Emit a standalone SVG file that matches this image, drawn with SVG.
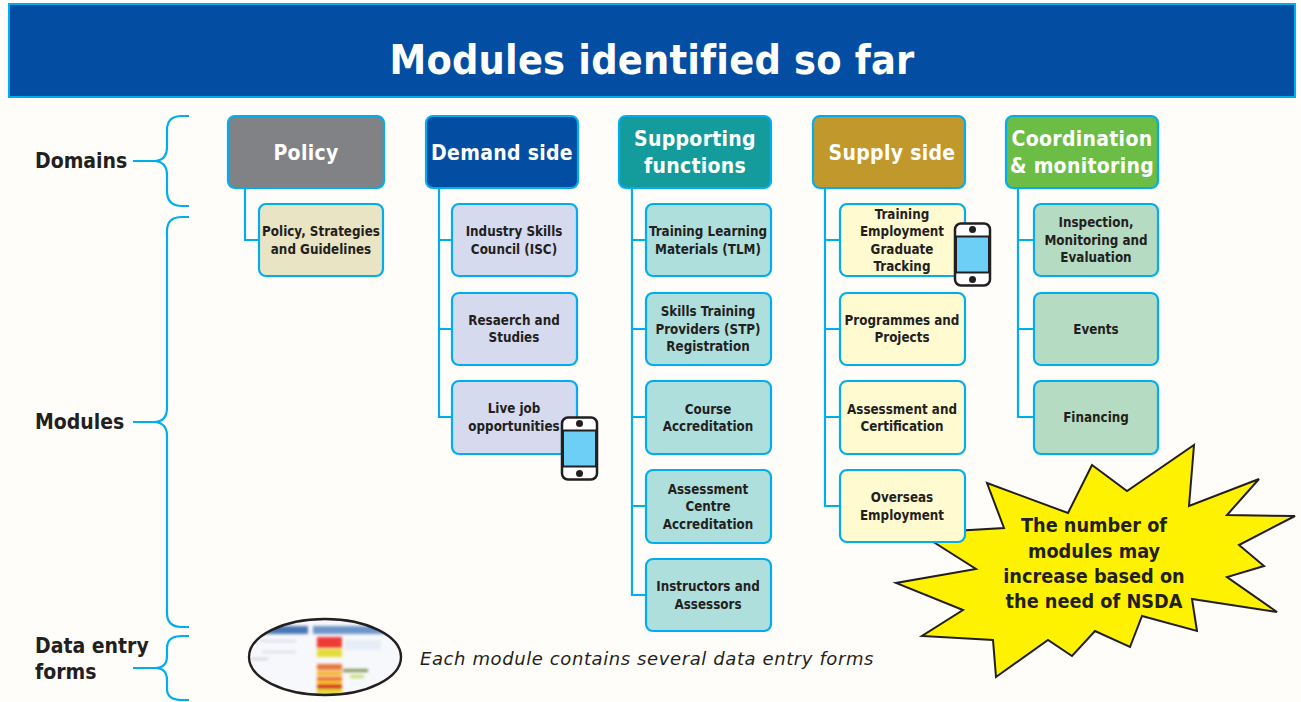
<svg xmlns="http://www.w3.org/2000/svg" width="1301" height="702" viewBox="0 0 1301 702">
<style>
text{font-family:"DejaVu Sans Condensed","DejaVu Sans","Liberation Sans",sans-serif;font-weight:700;text-anchor:middle;fill:#231f20}
.t{font-size:13.300px;transform:translateY(-.5px)}
.d{font-size:21px;fill:#fff;letter-spacing:.3px}
.l{font-size:21px;text-anchor:start}
.g{font-size:19.700px}
.b{fill:none;stroke:#00aeef;stroke-width:2.200}
.c{fill:none;stroke:#00aeef;stroke-width:2.200}
.dom{stroke:#00aeef;stroke-width:2.200}
.sub{stroke:#00aeef;stroke-width:2.200}
.p{fill:#e9e4c3}.q{fill:#d5daef}.r{fill:#afdfdd}.s{fill:#fffad0}.u{fill:#b5dcc3}
</style>
<defs>
<clipPath id="ell"><ellipse cx="325" cy="657" rx="76" ry="38"/></clipPath>
<filter id="blur" x="-5%" y="-5%" width="110%" height="110%"><feGaussianBlur stdDeviation="1.500"/></filter>
<g id="phone">
<rect x="-17.500" y="-31" width="35" height="62" rx="6" fill="#fff" stroke="#231f20" stroke-width="2.500"/>
<rect x="-16.500" y="-18" width="33" height="36" fill="#6dcff6" stroke="#231f20" stroke-width="2"/>
<circle cx="0" cy="-25" r="3.500" fill="#231f20"/>
<circle cx="0" cy="25" r="3.500" fill="#231f20"/>
</g>
</defs>
<rect width="1301" height="702" fill="#fefdf9"/>
<g id="header">
<rect x="9" y="4" width="1286" height="93" fill="#034ea2" stroke="#00aeef" stroke-width="2"/>
<text x="652" y="74" style="font-size:41px;fill:#fff;letter-spacing:.2px">Modules identified so far</text>
</g>
<g id="connectors">
<path class="c" d="M245 188V240H259"/>
<path class="c" d="M439 188V417H452M439 240H452M439 329H452"/>
<path class="c" d="M632 188V595H646M632 240H646M632 329H646M632 417H646M632 506H646"/>
<path class="c" d="M825 188V506H840M825 240H840M825 329H840M825 417H840"/>
<path class="c" d="M1018 188V417H1034M1018 240H1034M1018 329H1034"/>
</g>
<g id="brace-domains"><path class="b" d="M189 116H182Q167 116 167 130V147Q167 160 155 161H133M155 161Q167 162 167 175V191Q167 206 182 206H189"/><text class="l" x="35" y="168">Domains</text></g>
<g id="brace-modules"><path class="b" d="M189 217H182Q167 217 167 231V408Q167 421 155 422H133M155 422Q167 423 167 436V613Q167 627 182 627H189"/><text class="l" x="35" y="429">Modules</text></g>
<g id="brace-forms"><path class="b" d="M189 636H182Q167 636 167 648V656Q167 668 155 668H133M155 668Q167 668 167 680V689Q167 700 182 700H189"/><text class="l" x="35" y="653">Data entry</text><text class="l" x="35" y="679">forms</text></g>
<g id="burst">
<polygon points="987,483 1068,513 1092,465 1127,491 1194,445 1189,506 1259,479 1227,515 1295,516 1239,545 1264,566 1227,577 1277,612 1192,599 1197,631 1142,616 1130,647 1095,631 1072,656 1048,640 996,677 993,640 922,636 963,610 896,583 976,569 935,543 918,533 1004,528" fill="#fff200" stroke="#231f20" stroke-width="2"/>
<text class="g" x="1094" y="532">The number of</text>
<text class="g" x="1094" y="558">modules may</text>
<text class="g" x="1094" y="583">increase based on</text>
<text class="g" x="1094" y="608">the need of NSDA</text>
</g>
<g id="d-policy"><rect class="dom" x="228" y="116" width="156" height="72" rx="7" fill="#808285"/><text class="d" x="306" y="160">Policy</text></g>
<g id="d-demand"><rect class="dom" x="426" y="116" width="152" height="72" rx="7" fill="#034ea2"/><text class="d" x="502" y="160">Demand side</text></g>
<g id="d-support"><rect class="dom" x="619" y="116" width="152" height="72" rx="7" fill="#149c9c"/><text class="d" x="695" y="146">Supporting</text><text class="d" x="695" y="173">functions</text></g>
<g id="d-supply"><rect class="dom" x="813" y="116" width="152" height="72" rx="7" fill="#c1982c"/><text class="d" x="892" y="160">Supply side</text></g>
<g id="d-coord"><rect class="dom" x="1006" y="116" width="152" height="72" rx="7" fill="#6cbd45"/><text class="d" x="1082" y="146">Coordination</text><text class="d" x="1082" y="173">&amp; monitoring</text></g>
<g id="m-policy"><rect class="sub p" x="259" y="204" width="124" height="72" rx="7"/><text class="t" x="321" y="236">Policy, Strategies</text><text class="t" x="321" y="254">and Guidelines</text></g>
<g id="m-isc"><rect class="sub q" x="452" y="204" width="125" height="72" rx="7"/><text class="t" x="514" y="236">Industry Skills</text><text class="t" x="514" y="254">Council (ISC)</text></g>
<g id="m-research"><rect class="sub q" x="452" y="293" width="125" height="72" rx="7"/><text class="t" x="514" y="325">Resaerch and</text><text class="t" x="514" y="342">Studies</text></g>
<g id="m-live"><rect class="sub q" x="452" y="381" width="125" height="73" rx="7"/><text class="t" x="514" y="413">Live job</text><text class="t" x="514" y="431">opportunities</text></g>
<use id="phone-live" href="#phone" x="579.500" y="448.500"/>
<g id="m-tlm"><rect class="sub r" x="646" y="204" width="125" height="72" rx="7"/><text class="t" x="708" y="236">Training Learning</text><text class="t" x="708" y="254">Materials (TLM)</text></g>
<g id="m-stp"><rect class="sub r" x="646" y="293" width="125" height="72" rx="7"/><text class="t" x="708" y="316">Skills Training</text><text class="t" x="708" y="334">Providers (STP)</text><text class="t" x="708" y="351">Registration</text></g>
<g id="m-course"><rect class="sub r" x="646" y="381" width="125" height="73" rx="7"/><text class="t" x="708" y="414">Course</text><text class="t" x="708" y="431">Accreditation</text></g>
<g id="m-acc"><rect class="sub r" x="646" y="470" width="125" height="73" rx="7"/><text class="t" x="708" y="494">Assessment</text><text class="t" x="708" y="511">Centre</text><text class="t" x="708" y="529">Accreditation</text></g>
<g id="m-inst"><rect class="sub r" x="646" y="559" width="125" height="72" rx="7"/><text class="t" x="708" y="591">Instructors and</text><text class="t" x="708" y="609">Assessors</text></g>
<g id="m-tracking"><rect class="sub s" x="840" y="204" width="125" height="72" rx="7"/><text class="t" x="902" y="219">Training</text><text class="t" x="902" y="236">Employment</text><text class="t" x="902" y="254">Graduate</text><text class="t" x="902" y="271">Tracking</text></g>
<use id="phone-tracking" href="#phone" x="972.500" y="254.500"/>
<g id="m-prog"><rect class="sub s" x="840" y="293" width="125" height="72" rx="7"/><text class="t" x="902" y="325">Programmes and</text><text class="t" x="902" y="342">Projects</text></g>
<g id="m-assess"><rect class="sub s" x="840" y="381" width="125" height="73" rx="7"/><text class="t" x="902" y="414">Assessment and</text><text class="t" x="902" y="431">Certification</text></g>
<g id="m-over"><rect class="sub s" x="840" y="470" width="125" height="72" rx="7"/><text class="t" x="902" y="502">Overseas</text><text class="t" x="902" y="520">Employment</text></g>
<g id="m-insp"><rect class="sub u" x="1034" y="204" width="124" height="72" rx="7"/><text class="t" x="1096" y="227">Inspection,</text><text class="t" x="1096" y="245">Monitoring and</text><text class="t" x="1096" y="262">Evaluation</text></g>
<g id="m-events"><rect class="sub u" x="1034" y="293" width="124" height="72" rx="7"/><text class="t" x="1096" y="334">Events</text></g>
<g id="m-fin"><rect class="sub u" x="1034" y="381" width="124" height="73" rx="7"/><text class="t" x="1096" y="422">Financing</text></g>
<g id="forms-thumb">
<g clip-path="url(#ell)"><rect x="248" y="618" width="154" height="78" fill="#f7f8fb"/>
<g filter="url(#blur)">
<rect x="248" y="626" width="60" height="8" fill="#4a76b4"/><rect x="313" y="626" width="90" height="8" fill="#6c96c8"/>
<rect x="260" y="640" width="36" height="2" fill="#d5dbe6"/><rect x="345" y="640" width="36" height="10" fill="#e6edf6"/><rect x="262" y="651" width="34" height="2" fill="#d5dbe6"/><rect x="252" y="658" width="16" height="2" fill="#c9cfda"/>
<rect x="317" y="637" width="25" height="11" fill="#ee3a36"/><rect x="317" y="649" width="25" height="8" fill="#e4dc38"/>
<rect x="317" y="664" width="25" height="6" fill="#e8743a"/><rect x="317" y="671" width="25" height="5" fill="#f5b63a"/><rect x="317" y="677" width="25" height="4" fill="#ef6a2f"/><rect x="317" y="681" width="25" height="3" fill="#f3d23a"/><rect x="317" y="684" width="25" height="5" fill="#d92f22"/><rect x="317" y="689" width="25" height="7" fill="#e3dc3a"/>
<rect x="343" y="669" width="25" height="3" fill="#7c8f58"/><rect x="350" y="675" width="14" height="3" fill="#c5dc72"/>
</g></g>
<ellipse cx="325" cy="657" rx="76" ry="38" fill="none" stroke="#231f20" stroke-width="2.400"/>
</g>
<text x="420" y="665" style="font-family:'DejaVu Sans',sans-serif;font-size:18px;font-style:italic;font-weight:400;text-anchor:start;letter-spacing:.6px">Each module contains several data entry forms</text>
</svg>
